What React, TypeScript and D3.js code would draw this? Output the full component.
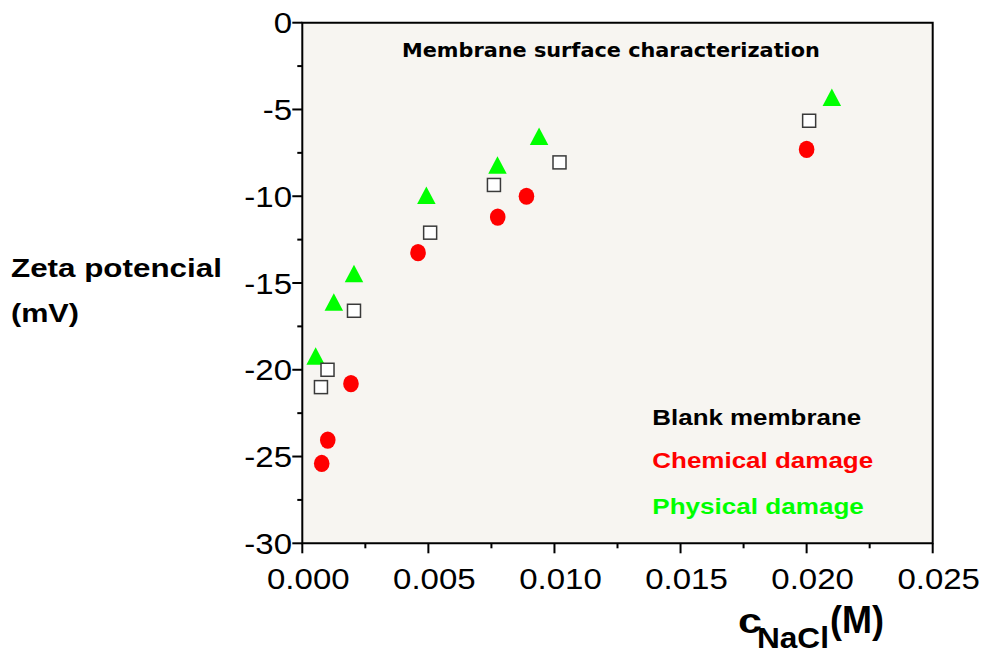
import React, { useLayoutEffect, useRef, useState } from "react";
import * as d3 from "d3";

// NaCl concentration (M) and zeta potential (mV) for each membrane state
const blankX = [0.00074, 0.001, 0.00205, 0.00507, 0.0076, 0.0102, 0.0201];
const blankY = [-21.0, -20.0, -16.6, -12.1, -9.35, -8.05, -5.65];
const chemX = [0.00077, 0.00101, 0.00193, 0.00459, 0.00775, 0.00889, 0.02];
const chemY = [-25.4, -24.05, -20.8, -13.25, -11.2, -10.0, -7.3];
const physX = [0.00053, 0.00125, 0.00205, 0.00492, 0.00774, 0.00939, 0.021];
const physY = [-19.2, -16.1, -14.45, -9.95, -8.2, -6.55, -4.3];

const xMajorTicks = [0, 0.005, 0.01, 0.015, 0.02, 0.025];
const yMajorTicks = [0, -5, -10, -15, -20, -25, -30];
const legendLabels = ["Blank membrane", "Chemical damage", "Physical damage"];
const titleText = "Membrane surface characterization";

const GREEN = "#00ff00";
const RED = "#ff0000";
const SANS = "'Liberation Sans', Arial, sans-serif";

// Text drawn at its natural size, then stretched horizontally to a given width.
function WideText(props: {
  x: number;
  y: number;
  width: number;
  fontSize: number;
  fill?: string;
  fontFamily?: string;
  children: string;
}) {
  const ref = useRef<SVGTextElement>(null);
  const [k, setK] = useState(1);
  useLayoutEffect(() => {
    if (ref.current) {
      const w = ref.current.getComputedTextLength();
      if (w > 0) setK(props.width / w);
    }
  }, [props.width, props.children]);
  return (
    <text
      ref={ref}
      transform={`translate(${props.x},${props.y}) scale(${k},1)`}
      fontFamily={props.fontFamily ?? SANS}
      fontWeight="bold"
      fontSize={props.fontSize}
      fill={props.fill ?? "#000"}
    >
      {props.children}
    </text>
  );
}

export default function App() {
  const left = 302.3;
  const right = 932.7;
  const top = 22.7;
  const bottom = 543.3;

  const x = d3.scaleLinear().domain([0, 0.025]).range([left, right]);
  const y = d3.scaleLinear().domain([-30, 0]).range([bottom, top]);

  const xMinor = d3.range(0.0025, 0.025, 0.005);
  const yMinor = d3.range(-27.5, 0, 5);

  const fs = 30;
  const sx = 1.1;

  const triW = 18.5;
  const triH = 17.5;

  return (
    <svg
      width={987}
      height={653}
      style={{ position: "absolute", left: 0, top: 0, background: "#fff" }}
    >
      {/* plot area */}
      <rect x={left} y={top} width={right - left} height={bottom - top} fill="#f7f5f1" />
      <path
        d={`M${left},${bottom}V${top}H${right}V${bottom}Z`}
        fill="none"
        stroke="#000"
        strokeWidth={2}
      />

      {/* x ticks */}
      {xMajorTicks.map((t) => (
        <g key={"xt" + t}>
          <line x1={x(t)} x2={x(t)} y1={bottom} y2={bottom + 10} stroke="#000" strokeWidth={2} />
          <text
            transform={`translate(${x(t) + 6},589) scale(${sx},1)`}
            textAnchor="middle"
            fontFamily={SANS}
            fontSize={fs}
            fill="#000"
          >
            {t.toFixed(3)}
          </text>
        </g>
      ))}
      {xMinor.map((t) => (
        <line key={"xm" + t} x1={x(t)} x2={x(t)} y1={bottom} y2={bottom + 5} stroke="#000" strokeWidth={2} />
      ))}

      {/* y ticks */}
      {yMajorTicks.map((t) => (
        <g key={"yt" + t}>
          <line x1={left - 10} x2={left} y1={y(t)} y2={y(t)} stroke="#000" strokeWidth={2} />
          <text
            transform={`translate(292,${y(t) + 10.7}) scale(${sx},1)`}
            textAnchor="end"
            fontFamily={SANS}
            fontSize={fs}
            fill="#000"
          >
            {`${t}`}
          </text>
        </g>
      ))}
      {yMinor.map((t) => (
        <line key={"ym" + t} x1={left - 5} x2={left} y1={y(t)} y2={y(t)} stroke="#000" strokeWidth={2} />
      ))}

      {/* title */}
      <WideText x={402} y={57.3} width={418} fontSize={20} fontFamily="'DejaVu Sans', sans-serif">
        {titleText}
      </WideText>

      {/* y axis title */}
      <WideText x={11} y={276.7} width={211} fontSize={26}>
        Zeta potencial
      </WideText>
      <WideText x={11} y={321.7} width={68} fontSize={26}>
        (mV)
      </WideText>

      {/* x axis title */}
      <WideText x={738} y={633} width={24} fontSize={36}>
        c
      </WideText>
      <WideText x={757} y={648} width={72} fontSize={29}>
        NaCl
      </WideText>
      <WideText x={830} y={633} width={54} fontSize={38}>
        (M)
      </WideText>

      {/* legend */}
      <WideText x={652.3} y={425} width={209} fontSize={22}>
        {legendLabels[0]}
      </WideText>
      <WideText x={652.3} y={467.7} width={221} fontSize={22} fill={RED}>
        {legendLabels[1]}
      </WideText>
      <WideText x={652.3} y={514.3} width={211.7} fontSize={22} fill={GREEN}>
        {legendLabels[2]}
      </WideText>

      {/* physical damage: green triangles */}
      {physX.map((v, i) => (
        <path
          key={"p" + i}
          d={`M${x(v)},${y(physY[i]) - triH / 2}L${x(v) + triW / 2},${y(physY[i]) + triH / 2}L${x(v) - triW / 2},${y(physY[i]) + triH / 2}Z`}
          fill={GREEN}
        />
      ))}

      {/* blank membrane: open squares */}
      {blankX.map((v, i) => (
        <rect
          key={"b" + i}
          x={x(v) - 6.5}
          y={y(blankY[i]) - 6.5}
          width={13}
          height={13}
          fill="#fff"
          stroke="#3a3a3a"
          strokeWidth={1.5}
        />
      ))}

      {/* chemical damage: red dots */}
      {chemX.map((v, i) => (
        <ellipse key={"c" + i} cx={x(v)} cy={y(chemY[i])} rx={7.8} ry={8.6} fill={RED} />
      ))}
    </svg>
  );
}
